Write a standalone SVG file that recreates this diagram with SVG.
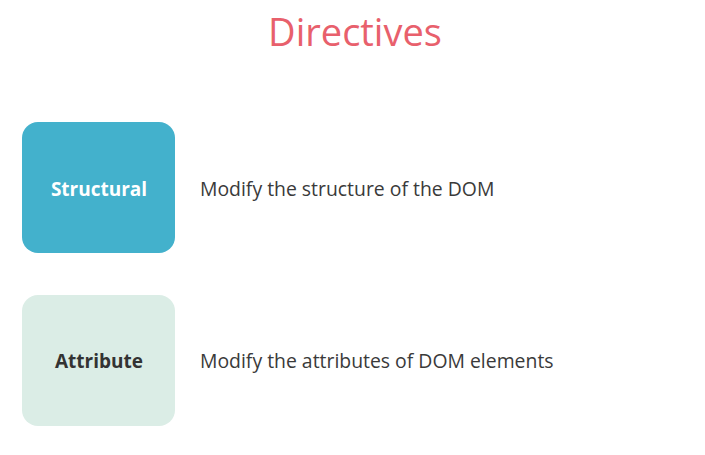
<svg xmlns="http://www.w3.org/2000/svg" width="705" height="455" viewBox="0 0 705 455">
<style>
.t{font-family:"Open Sans","Noto Sans","Liberation Sans",sans-serif}
.lbl{font-size:19px;font-weight:bold;text-anchor:middle}
.desc{font-size:19.4px;fill:#3a3a3a}
</style>
<rect width="705" height="455" fill="#ffffff"/>
<text class="t" x="355" y="46" font-size="38" fill="#e8606c" text-anchor="middle">Directives</text>
<g id="structural">
<rect x="22" y="122" width="153" height="131" rx="16" fill="#43b1cc"/>
<text class="t lbl" x="99" y="196" fill="#ffffff">Structural</text>
<text class="t desc" x="200" y="196">Modify the structure of the DOM</text>
</g>
<g id="attribute">
<rect x="22" y="295" width="153" height="131" rx="16" fill="#dbede6"/>
<text class="t lbl" x="99" y="368" fill="#333333">Attribute</text>
<text class="t desc" x="200" y="368">Modify the attributes of DOM elements</text>
</g>
<g id="connectors"/>
</svg>
